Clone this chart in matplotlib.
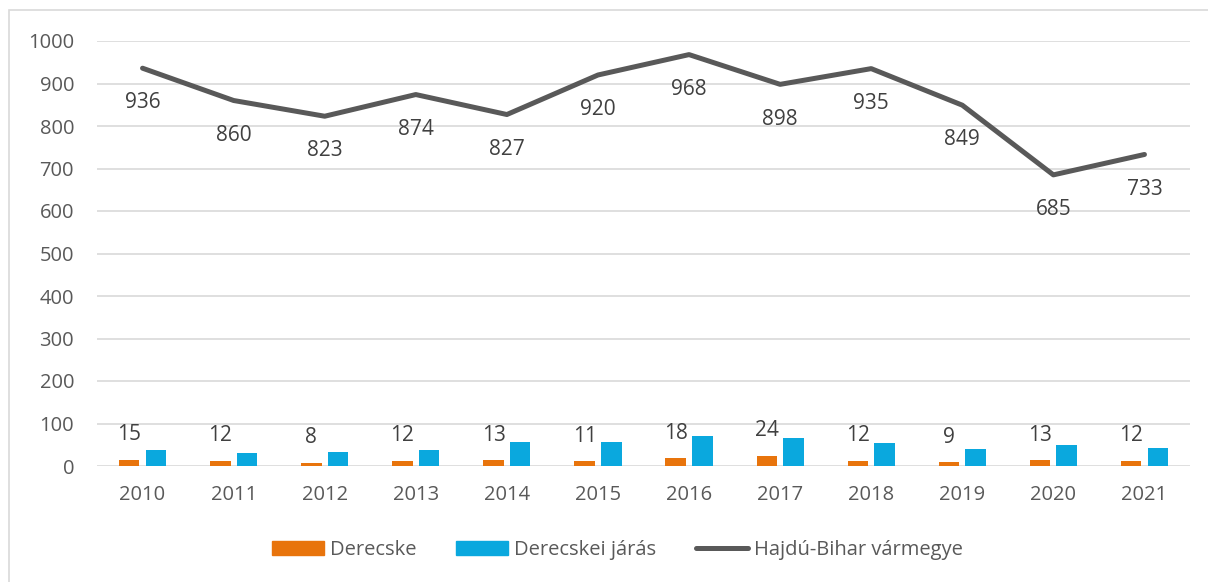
import numpy as np
import matplotlib.pyplot as plt
from matplotlib.patches import Rectangle
from matplotlib.lines import Line2D

plt.rcParams['font.family'] = ['Open Sans', 'DejaVu Sans']

years = ['2010', '2011', '2012', '2013', '2014', '2015', '2016', '2017', '2018', '2019', '2020', '2021']
derecske = [15, 12, 8, 12, 13, 11, 18, 24, 12, 9, 13, 12]
jaras = [38, 30, 33, 38, 57, 57, 71, 66, 54, 40, 50, 43]
megye = [936, 860, 823, 874, 827, 920, 968, 898, 935, 849, 685, 733]

c_orange = '#E8740C'
c_blue = '#0AA8DE'
c_line = '#595959'

fig = plt.figure(figsize=(12.08, 5.82), dpi=100)
ax = fig.add_axes([97 / 1208, 1 - 466 / 582, 1093 / 1208, 425 / 582])

# outer chart border
fig.patches.append(Rectangle((9 / 1208, -0.01), 1.0, 1.01 - 10 / 582, transform=fig.transFigure,
                             fill=False, edgecolor='#D9D9D9', linewidth=1.2))

x = np.arange(len(years))
w = 0.225
off = 0.146
ax.bar(x - off, derecske, w, color=c_orange, zorder=3)
ax.bar(x + off, jaras, w, color=c_blue, zorder=3)
ax.plot(x, megye, color=c_line, lw=3.6, zorder=4, solid_capstyle='round')

for i in range(len(years)):
    ax.annotate(str(derecske[i]), (x[i] - off, derecske[i]), xytext=(0, 18),
                textcoords='offset points', ha='center', va='center', fontsize=15, color='#404040')
    ax.annotate(str(megye[i]), (x[i], megye[i]), xytext=(0, -25),
                textcoords='offset points', ha='center', va='center', fontsize=15, color='#404040')

ax.set_xlim(-0.5, 11.5)
ax.set_ylim(0, 1000)
ax.set_yticks(range(0, 1001, 100))
ax.set_xticks(x)
ax.set_xticklabels(years)
ax.grid(axis='y', color='#D9D9D9', lw=1.2, zorder=0)
for s in ax.spines.values():
    s.set_visible(False)
ax.tick_params(length=0, labelsize=14.5, labelcolor='#595959')
ax.tick_params(axis='x', pad=14)
ax.tick_params(axis='y', pad=16.5)

handles = [Rectangle((0, 0), 1, 1, color=c_orange),
           Rectangle((0, 0), 1, 1, color=c_blue),
           Line2D([0], [0], color=c_line, lw=3.6, solid_capstyle='round')]
fig.legend(handles, ['Derecske', 'Derecskei járás', 'Hajdú-Bihar vármegye'],
           loc='center', bbox_to_anchor=(617.5 / 1208, 1 - 550 / 582), ncol=3, frameon=False,
           fontsize=14.5, labelcolor='#595959', handlelength=2.6, handleheight=0.7,
           handletextpad=0.3, columnspacing=1.95, borderpad=0)

fig.savefig('out.png', dpi=100)
